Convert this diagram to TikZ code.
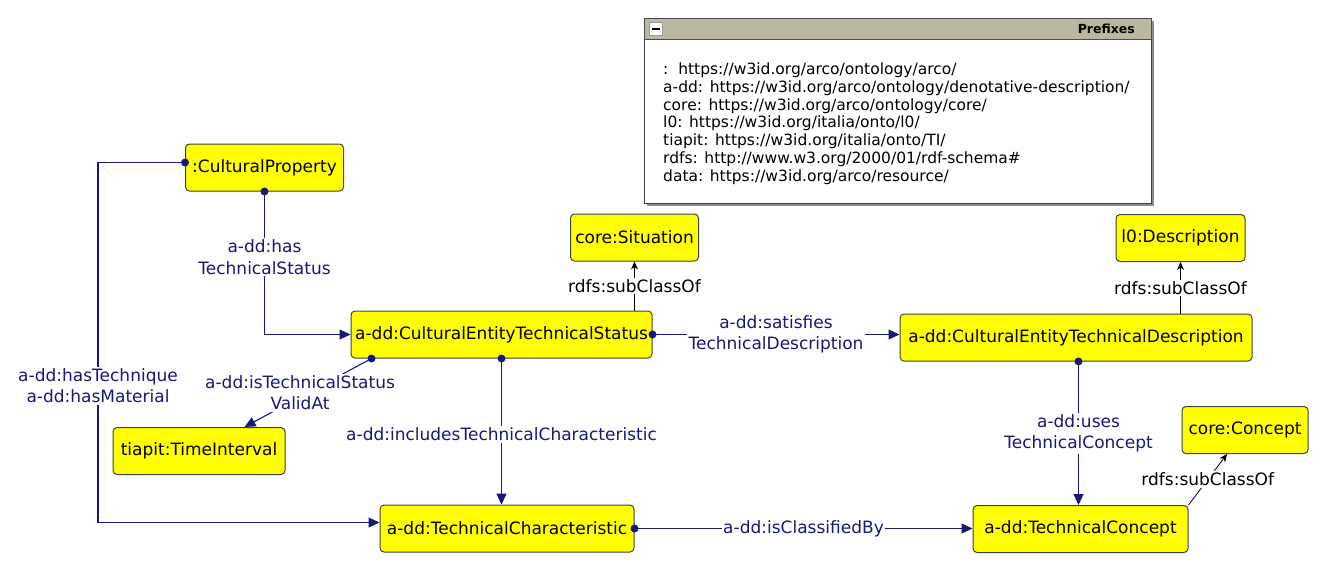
\documentclass[tikz,border=0pt]{standalone}
\usepackage{fontspec}
\setmainfont{DejaVu Sans}
\usetikzlibrary{arrows.meta,calc}
\definecolor{navyc}{RGB}{24,24,120}
\definecolor{ylw}{RGB}{255,255,0}
\definecolor{hdr}{RGB}{186,184,160}
\begin{document}
\begin{tikzpicture}[x=1pt,y=-1pt,
  cls/.style={draw=black!75, fill=ylw, rounded corners=4pt, line width=1pt,
    minimum height=47pt, inner sep=0pt, font=\fontsize{17}{20}\selectfont, text=black},
  rel/.style={draw=navyc, line width=1.1pt, -{Triangle[length=11pt,width=10pt]}},
  sub/.style={draw=black, line width=0.8pt, -{Stealth[length=8pt,width=7pt]}},
  lab/.style={fill=white, text=navyc, font=\fontsize{17}{21.5}\selectfont, align=center, inner sep=1.5pt},
  sublab/.style={fill=white, text=black, font=\fontsize{17}{20}\selectfont, inner sep=1.5pt},
  dot/.style={fill=navyc}
]
\useasboundingbox (0,0) rectangle (1322,565);

% Prefixes box
\fill[black!45] (647,21) rectangle (1154,206);
\node[draw=black!75, fill=white, line width=0.8pt, minimum width=507pt, minimum height=185pt,
  anchor=north west, inner sep=0pt] (pbox) at (644,18) {};
\node[draw=black!70, fill=hdr, line width=0.8pt, minimum width=507pt, minimum height=21pt,
  anchor=north west, inner sep=0pt] (phead) at (644,18) {};
\node[draw=black!40, fill=white, minimum size=13pt, inner sep=0pt] (pmin) at (655.5,29) {};
\draw[line width=1.6pt] ([xshift=-4pt]pmin.center) -- ([xshift=4pt]pmin.center);
\node[anchor=east, font=\bfseries\fontsize{12.5}{15}\selectfont, inner sep=0pt] (ptitle) at (1135,29) {Prefixes};
\node[anchor=north west, align=left, inner sep=0pt, font=\fontsize{15.5}{17.8}\selectfont] (ptext) at (663,62.5)
{:\ \ https://w3id.org/arco/ontology/arco/\\
a-dd: https://w3id.org/arco/ontology/denotative-description/\\
core: https://w3id.org/arco/ontology/core/\\
l0: https://w3id.org/italia/onto/l0/\\
tiapit: https://w3id.org/italia/onto/TI/\\
rdfs: http://www.w3.org/2000/01/rdf-schema\#\\
data: https://w3id.org/arco/resource/};

% Classes
\node[cls, minimum width=158pt] (cp) at (264.5,167.5) {:CulturalProperty};
\node[cls, minimum width=128pt] (sit) at (634.5,237.5) {core:Situation};
\node[cls, minimum width=129pt] (desc) at (1180.5,238) {l0:Description};
\node[cls, minimum width=301pt] (cets) at (501.5,334.5) {a-dd:CulturalEntityTechnicalStatus};
\node[cls, minimum width=352pt] (cetd) at (1076,337.5) {a-dd:CulturalEntityTechnicalDescription};
\node[cls, minimum width=172pt] (ti) at (199,451) {tiapit:TimeInterval};
\node[cls, minimum width=254pt] (tchar) at (507,528.5) {a-dd:TechnicalCharacteristic};
\node[cls, minimum width=215pt] (tcon) at (1080.5,529) {a-dd:TechnicalConcept};
\node[cls, minimum width=126pt] (con) at (1245,430) {core:Concept};

% Object properties
\draw[rel] (cp.south) |- (cets.west) node[lab, pos=0.23] {a-dd:has\\TechnicalStatus};
\fill[dot] (cp.south) circle (4pt);

\draw[rel] ([yshift=5pt]cp.west) -- ++(-87pt,0) |- ([yshift=6pt]tchar.west)
  node[lab, pos=0.31] {a-dd:hasTechnique\\a-dd:hasMaterial};
\fill[dot] ([yshift=5pt]cp.west) circle (4pt);

\draw[rel] ([xshift=21pt]cets.south west) -- ([xshift=132pt]ti.north west)
  node[lab, pos=0.5, xshift=-8pt] {a-dd:isTechnicalStatus\\ValidAt};
\fill[dot] ([xshift=21pt]cets.south west) circle (4pt);

\draw[rel] (cets.south) -- (cets.south |- tchar.north)
  node[lab, pos=0.52] {a-dd:includesTechnicalCharacteristic};
\fill[dot] (cets.south) circle (4pt);

\draw[rel] (cets.east) -- (cets.east -| cetd.west)
  node[lab, midway] {a-dd:satisfies\\TechnicalDescription};
\fill[dot] (cets.east) circle (4pt);

\draw[rel] ([xshift=2.5pt]cetd.south) -- ([xshift=2.5pt]cetd.south |- tcon.north)
  node[lab, midway] {a-dd:uses\\TechnicalConcept};
\fill[dot] ([xshift=2.5pt]cetd.south) circle (4pt);

\draw[rel] (tchar.east) -- (tchar.east -| tcon.west)
  node[lab, midway] {a-dd:isClassifiedBy};
\fill[dot] (tchar.east) circle (4pt);

% subClassOf
\draw[sub] (cets.north -| sit.south) -- (sit.south) node[sublab, midway] {rdfs:subClassOf};
\draw[sub] (cetd.north -| desc.south) -- (desc.south) node[sublab, midway] {rdfs:subClassOf};
\draw[sub] (tcon.north east) -- ([xshift=-18pt]con.south) node[sublab, midway] {rdfs:subClassOf};
\end{tikzpicture}
\end{document}
